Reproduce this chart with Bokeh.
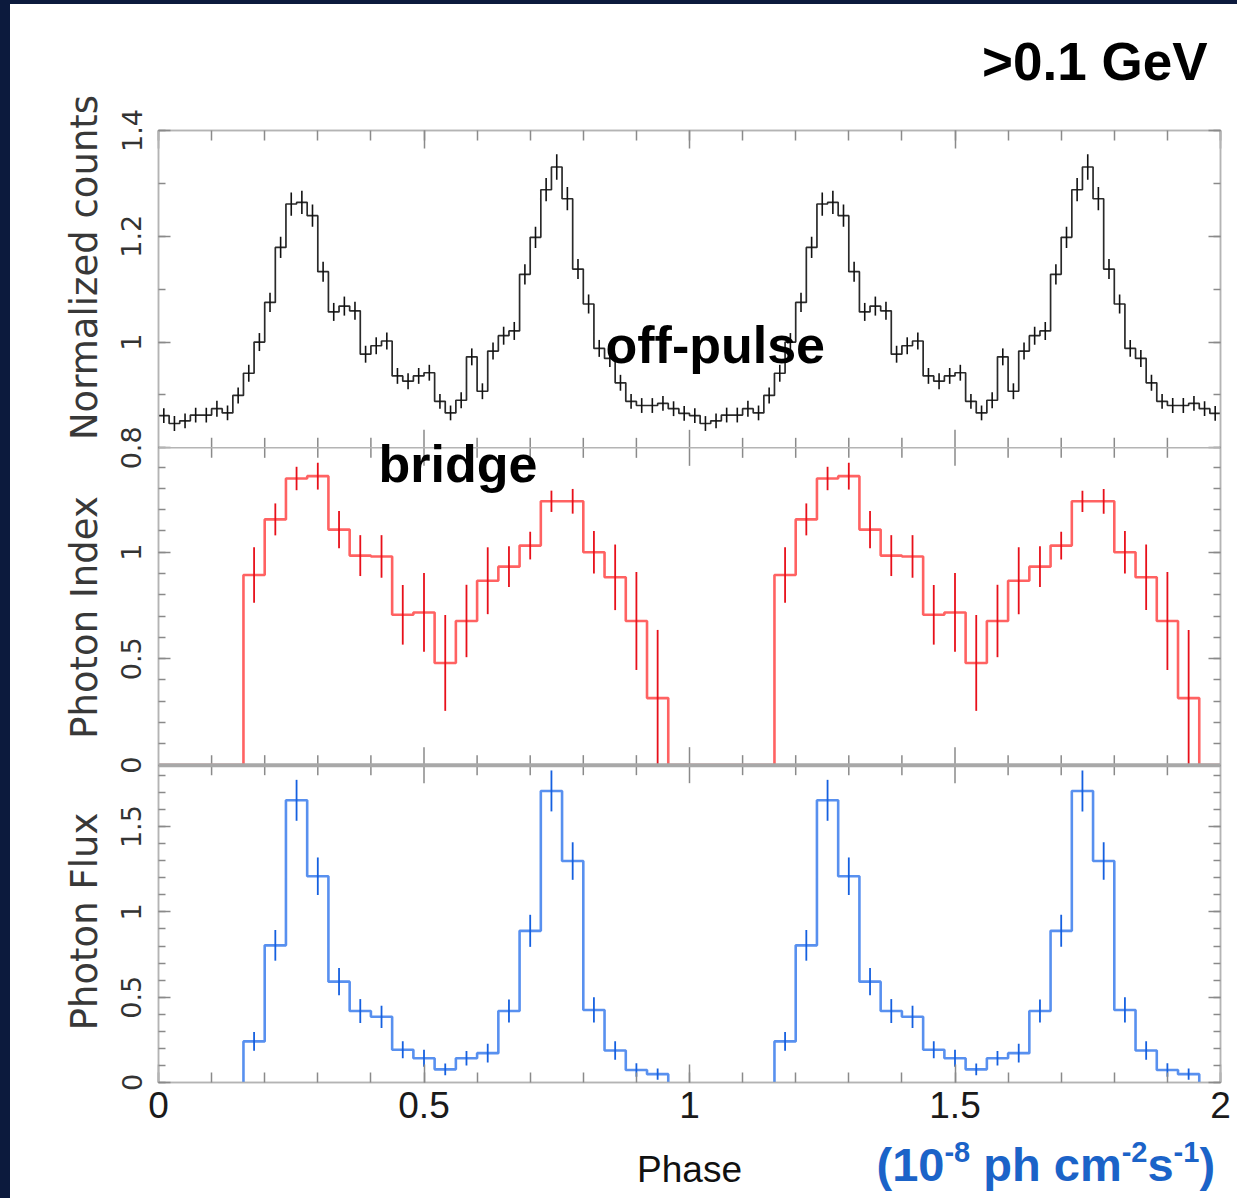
import numpy as np
from bokeh.plotting import figure
from bokeh.layouts import column, row
from bokeh.models import LinearAxis, FixedTicker, Range1d, Label, Span
from bokeh.embed import file_html
from bokeh.resources import INLINE

# ---------------- data (one rotation; the plot shows two identical cycles) ----------------
n_cycles = 2
counts_bin = 0.02
counts = [0.861, 0.846, 0.851, 0.862, 0.862, 0.874, 0.866, 0.899, 0.941, 1.000,
          1.075, 1.179, 1.261, 1.264, 1.239, 1.133, 1.057, 1.068, 1.059, 0.977,
          0.993, 1.002, 0.936, 0.926, 0.936, 0.942, 0.888, 0.866, 0.890, 0.972,
          0.907, 0.983, 1.012, 1.021, 1.128, 1.198, 1.288, 1.331, 1.271, 1.138,
          1.072, 0.988, 0.969, 0.923, 0.888, 0.880, 0.880, 0.884, 0.874, 0.865]
counts_err = [0.014, 0.014, 0.014, 0.014, 0.014, 0.015, 0.014, 0.015, 0.016, 0.017,
              0.018, 0.020, 0.022, 0.022, 0.021, 0.019, 0.017, 0.018, 0.017, 0.016,
              0.016, 0.016, 0.015, 0.015, 0.015, 0.015, 0.014, 0.014, 0.015, 0.016,
              0.015, 0.016, 0.017, 0.017, 0.019, 0.020, 0.022, 0.024, 0.022, 0.019,
              0.018, 0.016, 0.016, 0.015, 0.014, 0.014, 0.014, 0.014, 0.014, 0.014]

spec_bin = 0.04
photon_index = [0, 0, 0, 0, 0.893, 1.154, 1.346, 1.357, 1.106, 0.984,
                0.980, 0.706, 0.717, 0.480, 0.677, 0.866, 0.932, 1.031, 1.239, 1.239,
                1.000, 0.882, 0.677, 0.315, 0]
photon_index_err = [0, 0, 0, 0, 0.13, 0.075, 0.055, 0.063, 0.087, 0.096,
                    0.10, 0.14, 0.185, 0.225, 0.17, 0.157, 0.096, 0.065, 0.05, 0.058,
                    0.10, 0.154, 0.23, 0.32, 0]

flux_start = 0.16
photon_flux = [0.241, 0.804, 1.654, 1.209, 0.591, 0.419, 0.385, 0.192, 0.142, 0.077,
               0.142, 0.172, 0.419, 0.889, 1.709, 1.298, 0.425, 0.188, 0.073, 0.049]
photon_flux_err = [0.055, 0.09, 0.12, 0.11, 0.08, 0.07, 0.065, 0.05, 0.05, 0.035,
                   0.042, 0.055, 0.067, 0.094, 0.12, 0.11, 0.074, 0.054, 0.04, 0.033]

x_major = [0, 0.5, 1, 1.5, 2]
x_minor = [round(0.1 * i, 1) for i in range(21)]
x_labels = {0: "0", 0.5: "0.5", 1: "1", 1.5: "1.5", 2: "2"}

# panel: (name, range lo, range hi, major ticks, labels, minor ticks, slot from bottom)
panels = [
    ("counts", 0.8, 1.4, [0.8, 1.0, 1.2, 1.4], ["0.8", "1", "1.2", "1.4"],
     [round(0.8 + 0.1 * i, 1) for i in range(7)], 2),
    ("index", 0.0, 1.49, [0.0, 0.5, 1.0], ["0", "0.5", "1"],
     [round(0.1 * i, 1) for i in range(15)], 1),
    ("flux", 0.0, 1.86, [0.0, 0.5, 1.0, 1.5], ["0", "0.5", "1", "1.5"],
     [round(0.1 * i, 1) for i in range(19)], 0),
]
axis_titles = ["Normalized counts", "Photon Index", "Photon Flux"]

# ---------------- styling ----------------
FRAME = "#b4b4b4"
TICK = "#8a8a8a"
PANEL_PX = 952 / 3.0
xr = Range1d(0, 2)
MAIN_W = 1121


def style_axis(ax, tin, tmin, hide_labels=False):
    ax.axis_line_color = FRAME
    ax.axis_line_width = 1.5
    ax.major_tick_line_color = TICK
    ax.minor_tick_line_color = TICK
    ax.major_tick_line_width = 1.5
    ax.minor_tick_line_width = 1.5
    ax.major_tick_in = tin
    ax.major_tick_out = 0
    ax.minor_tick_in = tmin
    ax.minor_tick_out = 0
    if hide_labels:
        ax.major_label_text_color = None
        ax.major_label_text_font_size = "1px"
        ax.major_label_standoff = 0


def strip(width, height, x_range, y_range):
    f = figure(width=width, height=height, x_range=x_range, y_range=y_range,
               x_axis_location=None, y_axis_location=None, toolbar_location=None,
               output_backend="svg", min_border=0, outline_line_color=None,
               background_fill_color="white", border_fill_color="white")
    f.grid.visible = False
    return f


# ---------------- main figure with three stacked panels ----------------
p = figure(width=MAIN_W, height=1035, x_range=xr, y_range=Range1d(0, 3),
           x_axis_location=None, y_axis_location=None,
           toolbar_location=None, output_backend="svg",
           min_border_left=42, min_border_right=17,
           min_border_top=30, min_border_bottom=53,
           background_fill_color="white", border_fill_color="white",
           outline_line_color=FRAME, outline_line_width=1.5)
p.grid.visible = False

y_major, y_minor, y_over = [], [], {}
for name, lo, hi, maj, labs, mnr, slot in panels:
    span = hi - lo
    p.extra_y_ranges[name] = Range1d(lo - slot * span, hi + (2 - slot) * span)
    for v, t in zip(maj, labs):
        pos = slot + (v - lo) / span
        y_major.append(pos)
        y_over[pos] = t
    for v in mnr:
        y_minor.append(slot + (v - lo) / span)

yticker = FixedTicker(ticks=y_major, minor_ticks=y_minor)
left = LinearAxis(ticker=yticker, major_label_overrides=y_over,
                  major_label_orientation="vertical")
style_axis(left, 12, 7)
left.major_label_text_font = "DejaVu Sans"
left.major_label_text_font_size = "27px"
left.major_label_text_color = "#333333"
left.major_label_standoff = 17
p.add_layout(left, "left")

right = LinearAxis(ticker=yticker)
style_axis(right, 12, 7, hide_labels=True)
p.add_layout(right, "right")

xticker = FixedTicker(ticks=x_major, minor_ticks=x_minor)
above = LinearAxis(ticker=xticker)
style_axis(above, 18, 10, hide_labels=True)
p.add_layout(above, "above")

below = LinearAxis(ticker=xticker, major_label_overrides=x_labels)
style_axis(below, 18, 10)
below.major_label_text_font = "Liberation Sans"
below.major_label_text_font_size = "37px"
below.major_label_text_color = "#1a1a1a"
below.major_label_standoff = 9
p.add_layout(below, "below")

# panel separators and their inner ticks
p.add_layout(Span(location=2, dimension="width", line_color=FRAME, line_width=1.5))
p.add_layout(Span(location=1, dimension="width", line_color="#a8a8a8", line_width=4))
tx, ty0, ty1 = [], [], []
for xv in x_minor[1:-1]:
    L = (18 if xv in x_major else 10) / PANEL_PX
    for b in (1, 2):
        tx += [xv, xv]
        ty0 += [b, b]
        ty1 += [b + L, b - L]
p.segment(x0=tx, y0=ty0, x1=tx, y1=ty1, line_color=TICK, line_width=1.5)

# counts
c_vals = np.array(counts * n_cycles)
c_err = np.array(counts_err * n_cycles)
c_left = np.arange(len(c_vals)) * counts_bin
c_mid = c_left + counts_bin / 2
p.step(x=np.append(c_left, n_cycles), y=np.append(c_vals, c_vals[-1]), mode="after",
       line_color="#2a2a2a", line_width=1.7, y_range_name="counts")
p.segment(x0=c_mid, y0=c_vals - c_err, x1=c_mid, y1=c_vals + c_err,
          line_color="#111111", line_width=1.6, y_range_name="counts")

# photon index
i_vals = np.array(photon_index * n_cycles)
i_err = np.array(photon_index_err * n_cycles)
i_left = np.arange(len(i_vals)) * spec_bin
i_mid = i_left + spec_bin / 2
p.step(x=np.append(i_left, n_cycles), y=np.append(i_vals, i_vals[-1]), mode="after",
       line_color="#ff3b3b", line_width=2.6, line_alpha=0.8, y_range_name="index")
has = i_err > 0
p.segment(x0=i_mid[has], y0=(i_vals - i_err)[has], x1=i_mid[has], y1=(i_vals + i_err)[has],
          line_color="#e8101a", line_width=1.8, y_range_name="index")

# photon flux
f_vals = np.array(photon_flux)
f_err = np.array(photon_flux_err)
nb = len(photon_flux)
for k in range(n_cycles):
    s = k + flux_start
    xs = [s] + [s + spec_bin * i for i in range(nb + 1)]
    ys = [0] + photon_flux + [0]
    p.step(x=xs, y=ys, mode="after", line_color="#3b7cec", line_width=2.6,
           line_alpha=0.85, y_range_name="flux")
    mids = s + spec_bin * np.arange(nb) + spec_bin / 2
    p.segment(x0=mids, y0=f_vals - f_err, x1=mids, y1=f_vals + f_err,
              line_color="#1560e0", line_width=1.8, y_range_name="flux")

bold = dict(text_font="Liberation Sans", text_font_style="bold", text_color="#000000",
            text_baseline="alphabetic", text_align="left", text_font_size="52px")
p.add_layout(Label(x=0.8418, y=0.9943, text="off-pulse", y_range_name="counts", **bold))
p.add_layout(Label(x=0.4143, y=1.4148, text="bridge", y_range_name="index", **bold))

# ---------------- top strip: energy band ----------------
pt = strip(MAIN_W, 96, xr, Range1d(0, 96))
pt.add_layout(Label(x=1.9755, y=39.5, text=">0.1 GeV", text_align="right",
                    text_baseline="alphabetic", text_font="Liberation Sans",
                    text_font_style="bold", text_font_size="53px", text_color="#000000"))

# ---------------- left strip: panel titles ----------------
pl = strip(106, 1194, Range1d(10, 116), Range1d(1198, 4))
title_y = [267, 617, 921]
for t, yy in zip(axis_titles, title_y):
    pl.add_layout(Label(x=84, y=yy, text=t, angle=np.pi / 2, text_align="center",
                        text_baseline="middle", text_font="DejaVu Sans",
                        text_font_size="37px", text_color="#383838"))

# ---------------- bottom strip: x title and flux unit ----------------
pb = strip(MAIN_W, 63, xr, Range1d(0, 63))
pb.add_layout(Label(x=1.0, y=29, text="Phase", text_align="center", text_baseline="alphabetic",
                    text_font="Liberation Sans", text_font_size="37px", text_color="#111111"))
unit_color = "#1b63c8"
unit_parts = [("(10", 1.3522, 34, "47px"), ("-8", 1.4801, 47, "29px"),
              ("ph cm", 1.5533, 34, "47px"), ("-2", 1.8139, 47, "29px"),
              ("s", 1.8625, 34, "47px"), ("-1", 1.9117, 47, "29px"),
              (")", 1.9603, 34, "47px")]
for txt, ux, uy, fs in unit_parts:
    pb.add_layout(Label(x=ux, y=uy, text=txt, text_align="left", text_baseline="alphabetic",
                        text_font="Liberation Sans", text_font_style="bold",
                        text_font_size=fs, text_color=unit_color))

inner = row(pl, column(pt, p, pb, spacing=0), spacing=0,
            styles={"background-color": "white"})
inner.margin = (4, 0, 0, 10)
layout = column(inner, styles={"background-color": "#0c1a3d"})

open("out.html", "w").write(file_html(layout, INLINE))
